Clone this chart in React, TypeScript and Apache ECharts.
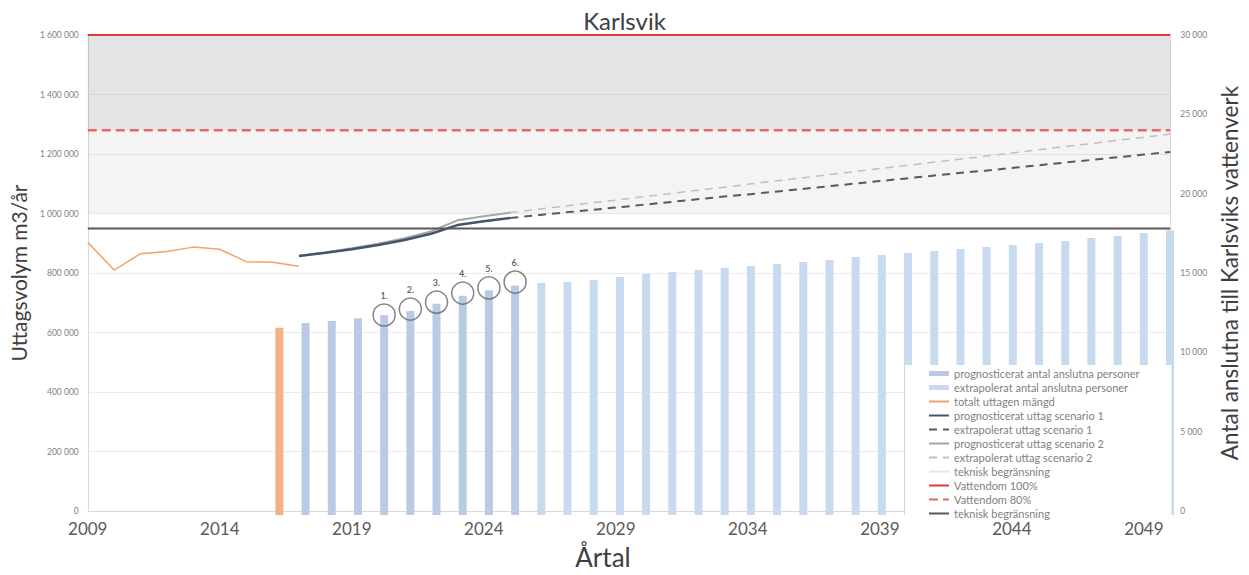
import { useEffect, useRef } from 'react';
import * as echarts from 'echarts';

const years = ['2009','2010','2011','2012','2013','2014','2015','2016','2017','2018','2019','2020','2021','2022','2023','2024','2025','2026','2027','2028','2029','2030','2031','2032','2033','2034','2035','2036','2037','2038','2039','2040','2041','2042','2043','2044','2045','2046','2047','2048','2049','2050'];

// m3/år, left axis
const totalWithdrawnStart = 2009;
const totalWithdrawn = [903000, 810000, 865000, 872000, 887000, 880000, 838000, 836000, 823000];
const progUseStart = 2017;
const progUse1 = [857000, 868000, 880000, 894000, 911000, 932000, 961000, 974000, 985000];
const progUse2 = [857000, 869000, 883000, 898000, 917000, 940000, 977000, 991000, 1003000];
const extUseStart = 2025;
const extUse1 = [985000, 994000, 1003000, 1011000, 1020000, 1029000, 1038000, 1047000, 1056000, 1064000, 1073000, 1082000, 1091000, 1100000, 1109000, 1118000, 1127000, 1136000, 1144000, 1153000, 1162000, 1171000, 1180000, 1189000, 1198000, 1207000];
const extUse2 = [1003000, 1014000, 1024000, 1035000, 1045000, 1056000, 1066000, 1077000, 1087000, 1098000, 1109000, 1119000, 1130000, 1140000, 1151000, 1161000, 1172000, 1182000, 1193000, 1203000, 1214000, 1225000, 1235000, 1246000, 1256000, 1267000];
const permit100 = 1600000;
const permit80 = 1280000;
const techLimit = 950000;
const techLimitLight = 1000000;

// persons, right axis
const progPersonsStart = 2016;
const progPersons = [11700, 12000, 12130, 12300, 12500, 12750, 13200, 13700, 14050, 14350];
const extPersonsStart = 2026;
const extPersons = [14500, 14560, 14690, 14870, 15060, 15190, 15310, 15440, 15560, 15690, 15810, 15940, 16120, 16250, 16370, 16500, 16620, 16750, 16870, 17000, 17120, 17310, 17440, 17620, 17800];

const circleYears = ['2020', '2021', '2022', '2023', '2024', '2025'];
const circleValues = [12500, 12870, 13300, 13870, 14190, 14560];
const circleLabels = ['1.', '2.', '3.', '4.', '5.', '6.'];

const leftTicks = { min: 0, max: 1600000, interval: 200000 };
const rightTicks = { min: 0, max: 30000, interval: 5000 };

const span = (start: number, values: number[]) =>
  years.map((y) => {
    const i = Number(y) - start;
    return i >= 0 && i < values.length ? values[i] : null;
  });

const fmt = (v: number) => String(v).replace(/\B(?=(\d{3})+(?!\d))/g, ' ');

export default function App() {
  const ref = useRef<HTMLDivElement>(null);
  useEffect(() => {
    if (!ref.current) return;
    const chart = echarts.init(ref.current, undefined, { renderer: 'svg' });
    const font = 'Lato';
    const lineBase = { type: 'line', symbol: 'none', xAxisIndex: 0, yAxisIndex: 0, z: 3 };
    const barIcon = { icon: 'rect', itemStyle: { opacity: 1 } };
    chart.setOption({
      animation: false,
      textStyle: { fontFamily: font },
      title: {
        text: 'Karlsvik',
        left: 'center',
        top: 3,
        textStyle: { fontFamily: font, fontSize: 24, fontWeight: 'normal', color: '#404040' },
      },
      grid: [
        { left: 87, right: 69, top: 35, bottom: 60 },
        { left: 96, right: 79, top: 35, bottom: 60 },
      ],
      legend: {
        orient: 'vertical',
        left: 905,
        top: 365,
        backgroundColor: '#ffffff',
        padding: [3, 32, 2, 23],
        itemWidth: 20,
        itemHeight: 5,
        itemGap: 3,
        itemStyle: { opacity: 0 },
        textStyle: { fontFamily: font, fontSize: 11, color: '#7f7f7f', lineHeight: 10 },
        data: [
          { name: 'prognosticerat antal anslutna personer', ...barIcon },
          { name: 'extrapolerat antal anslutna personer', ...barIcon },
          'totalt uttagen mängd',
          'prognosticerat uttag scenario 1',
          'extrapolerat uttag scenario 1',
          'prognosticerat uttag scenario 2',
          'extrapolerat uttag scenario 2',
          'teknisk begränsning',
          'Vattendom 100%',
          'Vattendom 80%',
          'teknisk begränsning\u00a0',
        ],
      },
      xAxis: [
        {
          type: 'category',
          gridIndex: 0,
          data: years,
          boundaryGap: false,
          name: 'Årtal',
          nameLocation: 'middle',
          nameGap: 33,
          nameTextStyle: { fontFamily: font, fontSize: 26, color: '#404040', padding: [0, 52, 0, 0] },
          axisLine: { lineStyle: { color: '#d9d9d9' } },
          axisTick: { show: false },
          axisLabel: { interval: 4, fontSize: 17, color: '#595959', margin: 9 },
          splitLine: { show: false },
        },
        {
          type: 'category',
          gridIndex: 1,
          data: years,
          boundaryGap: false,
          show: false,
        },
      ],
      yAxis: [
        {
          type: 'value',
          gridIndex: 0,
          ...leftTicks,
          name: 'Uttagsvolym m3/år',
          nameLocation: 'middle',
          nameGap: 54,
          nameTextStyle: { fontFamily: font, fontSize: 21, color: '#404040' },
          axisLine: { show: true, lineStyle: { color: '#d9d9d9' } },
          axisTick: { show: false },
          axisLabel: { fontSize: 8.5, color: '#7f7f7f', formatter: (v: number) => fmt(v), margin: 9 },
          splitLine: { show: true, lineStyle: { color: '#ececec' } },
        },
        {
          type: 'value',
          gridIndex: 0,
          ...rightTicks,
          name: 'Antal anslutna till Karlsviks vattenverk',
          nameLocation: 'middle',
          nameGap: 41,
          nameTextStyle: { fontFamily: font, fontSize: 22.5, color: '#404040' },
          axisLine: { show: true, lineStyle: { color: '#d9d9d9' } },
          axisTick: { show: false },
          axisLabel: { fontSize: 8.5, color: '#7f7f7f', formatter: (v: number) => fmt(v), margin: 10 },
          splitLine: { show: false },
        },
        {
          type: 'value',
          gridIndex: 1,
          ...rightTicks,
          show: false,
          splitLine: { show: false },
        },
      ],
      series: [
        {
          name: 'prognosticerat antal anslutna personer',
          type: 'bar',
          xAxisIndex: 1,
          yAxisIndex: 2,
          barWidth: 8,
          barGap: '-100%',
          clip: false,
          itemStyle: { color: '#b9cbe4' },
          data: span(progPersonsStart, progPersons).map((v, i) =>
            years[i] === String(progPersonsStart) && v != null
              ? { value: v, itemStyle: { color: '#f4b183' } }
              : v
          ),
          z: 2,
        },
        {
          name: 'extrapolerat antal anslutna personer',
          type: 'bar',
          xAxisIndex: 1,
          yAxisIndex: 2,
          barWidth: 8,
          barGap: '-100%',
          clip: false,
          itemStyle: { color: '#c8daf0' },
          data: span(extPersonsStart, extPersons),
          z: 2,
        },
        {
          ...lineBase,
          name: 'totalt uttagen mängd',
          data: span(totalWithdrawnStart, totalWithdrawn),
          lineStyle: { color: '#f0a46c', width: 1.5 },
          itemStyle: { color: '#f0a46c' },
        },
        {
          ...lineBase,
          name: 'prognosticerat uttag scenario 2',
          data: span(progUseStart, progUse2),
          lineStyle: { color: '#a5a5a5', width: 2 },
          itemStyle: { color: '#a5a5a5' },
        },
        {
          ...lineBase,
          name: 'prognosticerat uttag scenario 1',
          data: span(progUseStart, progUse1),
          lineStyle: { color: '#44546a', width: 2.5 },
          itemStyle: { color: '#44546a' },
        },
        {
          ...lineBase,
          name: 'extrapolerat uttag scenario 1',
          data: span(extUseStart, extUse1),
          lineStyle: { color: '#595959', width: 2, type: [8, 6] },
          itemStyle: { color: '#595959' },
        },
        {
          ...lineBase,
          name: 'extrapolerat uttag scenario 2',
          data: span(extUseStart, extUse2),
          lineStyle: { color: '#bfbfbf', width: 1.5, type: [8, 6] },
          itemStyle: { color: '#bfbfbf' },
        },
        {
          ...lineBase,
          name: 'teknisk begränsning',
          data: years.map(() => techLimitLight),
          lineStyle: { color: '#e6e6e6', width: 1 },
          itemStyle: { color: '#d0d0d0' },
          z: 1,
        },
        {
          ...lineBase,
          name: 'Vattendom 100%',
          data: years.map(() => permit100),
          lineStyle: { color: '#e0393e', width: 2 },
          itemStyle: { color: '#e0393e' },
          markArea: {
            silent: true,
            data: [
              [{ yAxis: permit80, itemStyle: { color: 'rgba(120,120,120,0.2)' } }, { yAxis: permit100 }],
              [{ yAxis: techLimitLight, itemStyle: { color: 'rgba(120,120,120,0.08)' } }, { yAxis: permit80 }],
            ],
          },
        },
        {
          ...lineBase,
          name: 'Vattendom 80%',
          data: years.map(() => permit80),
          lineStyle: { color: '#e8676b', width: 2.5, type: [9, 5] },
          itemStyle: { color: '#e8676b' },
        },
        {
          ...lineBase,
          name: 'teknisk begränsning\u00a0',
          data: years.map(() => techLimit),
          lineStyle: { color: '#595959', width: 2 },
          itemStyle: { color: '#595959' },
        },
        {
          name: 'markeringar',
          type: 'scatter',
          xAxisIndex: 1,
          yAxisIndex: 2,
          symbol: 'circle',
          symbolSize: 22,
          itemStyle: { color: 'rgba(0,0,0,0)', borderColor: '#666666', borderWidth: 1.5 },
          label: {
            show: true,
            position: 'top',
            distance: 3,
            fontSize: 9,
            fontWeight: 'bold',
            color: '#404040',
            formatter: (p: any) => circleLabels[p.dataIndex],
          },
          data: circleYears.map((y, i) => [y, circleValues[i]]),
          z: 5,
        },
      ],
    });
    return () => chart.dispose();
  }, []);
  return <div ref={ref} style={{ width: 1249, height: 575, position: 'absolute', left: 0, top: 0 }} />;
}
